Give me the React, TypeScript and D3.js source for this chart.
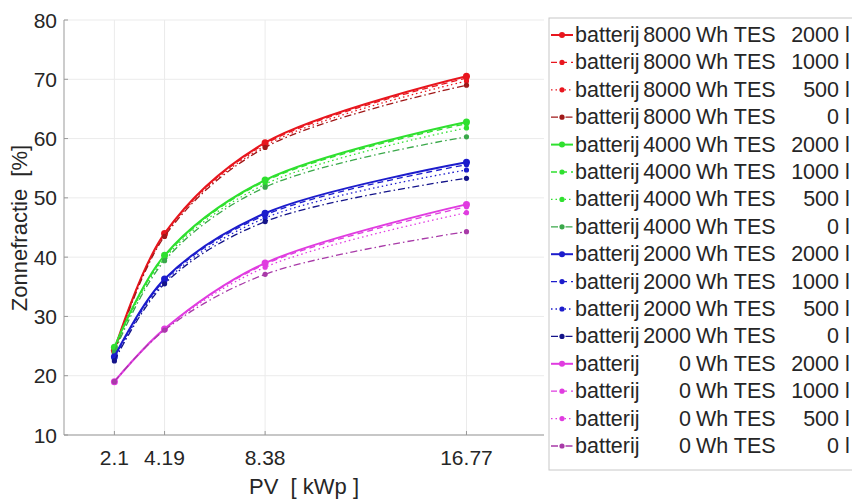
import React from "react";
import * as d3 from "d3";

// PV vermogen [kWp]
const pv = [2.1, 4.19, 8.38, 16.77];
const xTicks = [2.1, 4.19, 8.38, 16.77];
const xTickLabels = ["2.1", "4.19", "8.38", "16.77"];
const yTicks = [10, 20, 30, 40, 50, 60, 70, 80];

const batteries = [8000, 4000, 2000, 0];
const tesVolumes = [2000, 1000, 500, 0];

// zonnefractie [%] per TES volume (2000, 1000, 500, 0 l)
const zf8000 = [
  [24.3, 44.0, 59.3, 70.5],
  [24.2, 43.9, 59.1, 70.2],
  [24.0, 43.7, 58.8, 69.7],
  [23.8, 43.5, 58.5, 69.0],
];
const zf4000 = [
  [24.8, 40.3, 53.0, 62.8],
  [24.7, 40.1, 52.8, 62.5],
  [24.4, 39.8, 52.3, 61.8],
  [24.0, 39.4, 51.8, 60.3],
];
const zf2000 = [
  [23.2, 36.3, 47.4, 56.0],
  [23.0, 36.1, 47.1, 55.6],
  [22.8, 35.8, 46.6, 54.7],
  [22.5, 35.5, 46.0, 53.3],
];
const zf0 = [
  [19.0, 27.9, 39.0, 48.9],
  [19.0, 27.9, 38.8, 48.5],
  [19.0, 27.8, 38.3, 47.5],
  [19.0, 27.7, 37.1, 44.3],
];

const groupData = [zf8000, zf4000, zf2000, zf0];
const groupColors = ["#e8161e", "#2fe02f", "#1c1ccc", "#e03ce0"];
const darkColors = ["#a01818", "#3aa84a", "#14148a", "#a83aa8"];
const dashes = [null, "6,4", "1.5,3", "7,3,1.5,3"];

const W = 852;
const H = 499;

export default function App() {
  const x = d3.scaleLinear().domain([0, 20]).range([64, 544]);
  const y = d3.scaleLinear().domain([10, 80]).range([435, 20]);

  const line = d3
    .line<number>()
    .x((d, i) => x(pv[i]))
    .y((d) => y(d))
    .curve(d3.curveCatmullRom.alpha(0.5));

  const font = "'Liberation Sans', Arial, sans-serif";
  const textColor = "#262626";

  // legend rows, in the same order as the series are drawn
  const rows: { g: number; t: number }[] = [];
  batteries.forEach((b, g) => tesVolumes.forEach((tv, t) => rows.push({ g, t })));
  const rowY = (i: number) => 35 + i * 27.4;

  return (
    <div style={{ position: "fixed", left: 0, top: 0 }}>
      <svg width={W} height={H} style={{ display: "block", background: "#fff" }}>
        {/* grid */}
        {yTicks.map((t) => (
          <line key={"gy" + t} x1={64} x2={544} y1={y(t)} y2={y(t)} stroke="#ebebeb" />
        ))}
        {xTicks.map((t) => (
          <line key={"gx" + t} x1={x(t)} x2={x(t)} y1={20} y2={435} stroke="#ebebeb" />
        ))}

        {/* axes */}
        <line x1={64} x2={64} y1={20} y2={435} stroke="#999" />
        <line x1={64} x2={544} y1={435} y2={435} stroke="#999" />
        {yTicks.map((t) => (
          <g key={"ty" + t}>
            <line x1={64} x2={68} y1={y(t)} y2={y(t)} stroke="#999" />
            <text x={57} y={y(t)} textAnchor="end" dominantBaseline="central"
              fontFamily={font} fontSize={21} fill={textColor}>{t}</text>
          </g>
        ))}
        {xTicks.map((t, i) => (
          <g key={"tx" + t}>
            <line x1={x(t)} x2={x(t)} y1={435} y2={431} stroke="#999" />
            <text x={x(t)} y={457} textAnchor="middle" dominantBaseline="central"
              fontFamily={font} fontSize={21} fill={textColor}>{xTickLabels[i]}</text>
          </g>
        ))}
        <text x={304} y={486} textAnchor="middle" dominantBaseline="central"
          fontFamily={font} fontSize={22} fill={textColor} xmlSpace="preserve">
          {"PV  [ kWp ]"}
        </text>
        <text transform="translate(19,228) rotate(-90)" textAnchor="middle" dominantBaseline="central"
          fontFamily={font} fontSize={22} fill={textColor} xmlSpace="preserve">
          {"Zonnefractie  [%]"}
        </text>

        {/* series */}
        {groupData.map((series, g) =>
          series.map((vals, t) => {
            const col = t === 3 ? darkColors[g] : groupColors[g];
            return (
              <g key={`s${g}-${t}`}>
                <path d={line(vals) || ""} fill="none" stroke={col}
                  strokeWidth={t === 0 ? 2 : 1.3} strokeDasharray={dashes[t] || undefined} />
                {vals.map((v, i) => (
                  <circle key={i} cx={x(pv[i])} cy={y(v)} r={t === 0 ? 3.5 : 2.6} fill={col} />
                ))}
              </g>
            );
          })
        )}

        {/* legend */}
        <rect x={549} y={18} width={320} height={452} fill="#fff" stroke="#c8c8c8" />
        {rows.map((r, i) => {
          const cy = rowY(i);
          const col = r.t === 3 ? darkColors[r.g] : groupColors[r.g];
          return (
            <g key={"lg" + i}>
              <line x1={551} x2={573} y1={cy} y2={cy} stroke={col}
                strokeWidth={r.t === 0 ? 2 : 1.3} strokeDasharray={dashes[r.t] || undefined} />
              <circle cx={562} cy={cy} r={r.t === 0 ? 3 : 2.6} fill={col} />
              <text y={cy} dominantBaseline="central" fontFamily={font} fontSize={21.5} fill={textColor}>
                <tspan x={575}>batterij</tspan>
                <tspan x={691} textAnchor="end">{batteries[r.g]}</tspan>
                <tspan x={696}>Wh TES</tspan>
                <tspan x={839} textAnchor="end">{tesVolumes[r.t]}</tspan>
                <tspan x={845}>l</tspan>
              </text>
            </g>
          );
        })}
      </svg>
    </div>
  );
}
